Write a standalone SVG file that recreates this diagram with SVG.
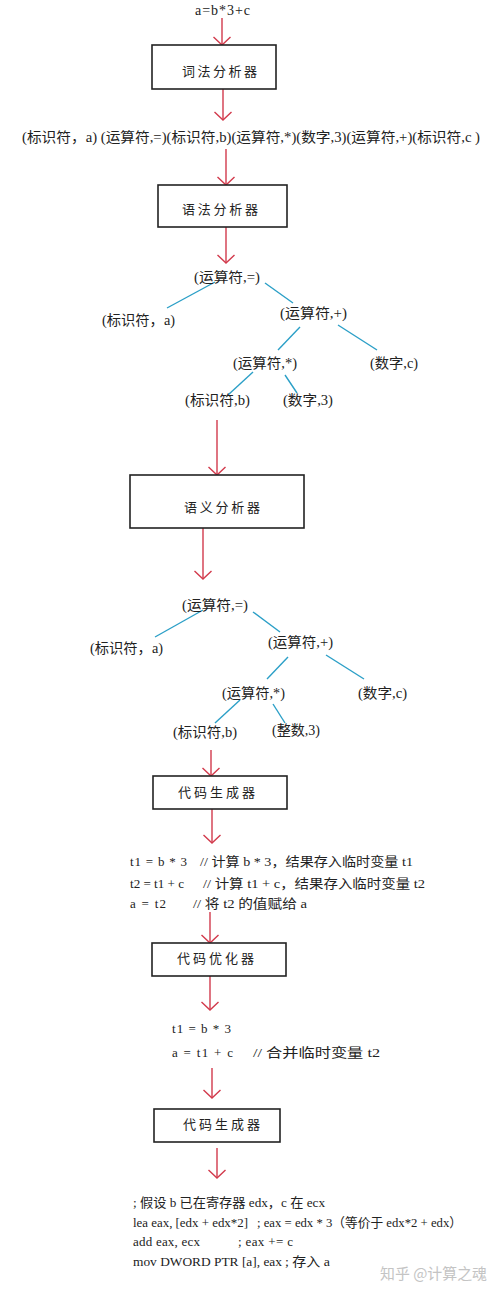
<svg xmlns="http://www.w3.org/2000/svg" width="500" height="1294" viewBox="0 0 500 1294">
<style>
.t{font-family:"Liberation Serif","Noto Sans CJK SC",serif;font-size:14px;fill:#222}
.c{font-family:"Liberation Serif","Noto Sans CJK SC",serif;font-size:13px;fill:#222}
.b{font-family:"Noto Sans CJK SC","Liberation Serif",serif;font-size:13px;fill:#222}
.box{fill:#fff;stroke:#222;stroke-width:1.6}
.arr{stroke:#d23a4c;stroke-width:1.4;fill:none}
.edge{stroke:#2b9fc7;stroke-width:1.4}
.wm{font-family:"Noto Sans CJK SC","Noto Sans",sans-serif;font-size:15px;fill:#c4c4c4}
</style>
<defs>
<marker id="ah" markerUnits="userSpaceOnUse" markerWidth="24" markerHeight="24" viewBox="-12 -12 24 24" refX="0" refY="0" orient="auto" overflow="visible">
<path d="M-8,-8.5 L0,0 L-8,8.5" fill="none" stroke="#d23a4c" stroke-width="1.4"/>
</marker>
</defs>
<rect width="500" height="1294" fill="#fff"/>

<g id="connectors">
<line class="arr" x1="222" y1="18" x2="222" y2="45" marker-end="url(#ah)"/>
<line class="arr" x1="223" y1="89" x2="223" y2="120" marker-end="url(#ah)"/>
<line class="arr" x1="226" y1="149" x2="226" y2="185" marker-end="url(#ah)"/>
<line class="arr" x1="226" y1="227" x2="226" y2="263" marker-end="url(#ah)"/>
<line class="arr" x1="217" y1="420" x2="217" y2="475" marker-end="url(#ah)"/>
<line class="arr" x1="203" y1="528" x2="203" y2="579" marker-end="url(#ah)"/>
<line class="arr" x1="211" y1="750" x2="211" y2="776" marker-end="url(#ah)"/>
<line class="arr" x1="212" y1="809" x2="212" y2="843" marker-end="url(#ah)"/>
<line class="arr" x1="210" y1="912" x2="210" y2="943" marker-end="url(#ah)"/>
<line class="arr" x1="210" y1="976" x2="210" y2="1010" marker-end="url(#ah)"/>
<line class="arr" x1="212" y1="1068" x2="212" y2="1098" marker-end="url(#ah)"/>
<line class="arr" x1="217" y1="1148" x2="217" y2="1178" marker-end="url(#ah)"/>
<line class="edge" x1="215" y1="282" x2="167" y2="308"/>
<line class="edge" x1="265" y1="283" x2="293" y2="303"/>
<line class="edge" x1="300" y1="327" x2="278" y2="350"/>
<line class="edge" x1="338" y1="325" x2="377" y2="350"/>
<line class="edge" x1="253" y1="372" x2="228" y2="395"/>
<line class="edge" x1="285" y1="375" x2="297" y2="393"/>
<line class="edge" x1="203" y1="610" x2="155" y2="637"/>
<line class="edge" x1="253" y1="612" x2="280" y2="632"/>
<line class="edge" x1="288" y1="657" x2="267" y2="679"/>
<line class="edge" x1="326" y1="655" x2="364" y2="679"/>
<line class="edge" x1="240" y1="700" x2="215" y2="723"/>
<line class="edge" x1="273" y1="704" x2="285" y2="723"/>
</g>

<g id="input"><text class="t" x="195" y="15" font-size="15" textLength="55">a=b*3+c</text></g>

<g id="lexer"><rect class="box" x="152" y="45" width="124" height="44"/><text class="b" x="182" y="76" textLength="75">词法分析器</text></g>

<g id="tokens"><text class="t" x="22" y="142" textLength="458" lengthAdjust="spacingAndGlyphs">(标识符，a) (运算符,=)(标识符,b)(运算符,*)(数字,3)(运算符,+)(标识符,c )</text></g>

<g id="parser"><rect class="box" x="158" y="185" width="129" height="42"/><text class="b" x="182" y="214" textLength="76">语法分析器</text></g>

<g id="tree1">
<text class="t" x="194" y="282" textLength="66" lengthAdjust="spacingAndGlyphs">(运算符,=)</text>
<text class="t" x="102" y="325" textLength="73" lengthAdjust="spacingAndGlyphs">(标识符，a)</text>
<text class="t" x="280" y="318" textLength="67" lengthAdjust="spacingAndGlyphs">(运算符,+)</text>
<text class="t" x="233" y="368" textLength="64" lengthAdjust="spacingAndGlyphs">(运算符,*)</text>
<text class="t" x="370" y="368" textLength="48" lengthAdjust="spacingAndGlyphs">(数字,c)</text>
<text class="t" x="185" y="405" textLength="65" lengthAdjust="spacingAndGlyphs">(标识符,b)</text>
<text class="t" x="283" y="405" textLength="50" lengthAdjust="spacingAndGlyphs">(数字,3)</text>
</g>

<g id="semantic"><rect class="box" x="130" y="475" width="174" height="53"/><text class="b" x="184" y="512" textLength="76">语义分析器</text></g>

<g id="tree2">
<text class="t" x="182" y="610" textLength="66" lengthAdjust="spacingAndGlyphs">(运算符,=)</text>
<text class="t" x="90" y="653" textLength="73" lengthAdjust="spacingAndGlyphs">(标识符，a)</text>
<text class="t" x="268" y="647" textLength="65" lengthAdjust="spacingAndGlyphs">(运算符,+)</text>
<text class="t" x="222" y="698" textLength="63" lengthAdjust="spacingAndGlyphs">(运算符,*)</text>
<text class="t" x="358" y="698" textLength="49" lengthAdjust="spacingAndGlyphs">(数字,c)</text>
<text class="t" x="173" y="737" textLength="64" lengthAdjust="spacingAndGlyphs">(标识符,b)</text>
<text class="t" x="272" y="735" textLength="48" lengthAdjust="spacingAndGlyphs">(整数,3)</text>
</g>

<g id="codegen1"><rect class="box" x="153" y="776" width="134" height="33"/><text class="b" x="178" y="797" textLength="77">代码生成器</text></g>

<g id="ir">
<text class="c" x="130" y="866" textLength="57">t1 = b * 3</text>
<text class="c" x="200" y="866" textLength="213" lengthAdjust="spacingAndGlyphs">// 计算 b * 3，结果存入临时变量 t1</text>
<text class="c" x="130" y="888" textLength="54" lengthAdjust="spacingAndGlyphs">t2 = t1 + c</text>
<text class="c" x="203" y="888" textLength="222" lengthAdjust="spacingAndGlyphs">// 计算 t1 + c，结果存入临时变量 t2</text>
<text class="c" x="130" y="908" textLength="36">a = t2</text>
<text class="c" x="193" y="908" textLength="114" lengthAdjust="spacingAndGlyphs">// 将 t2 的值赋给 a</text>
</g>

<g id="optimizer"><rect class="box" x="152" y="943" width="134" height="33"/><text class="b" x="177" y="963" textLength="77">代码优化器</text></g>

<g id="opt-ir">
<text class="c" x="172" y="1033" textLength="59">t1 = b * 3</text>
<text class="c" x="172" y="1057" textLength="61">a = t1 + c</text>
<text class="c" x="253" y="1057" textLength="127" lengthAdjust="spacingAndGlyphs">// 合并临时变量 t2</text>
</g>

<g id="codegen2"><rect class="box" x="154" y="1109" width="126" height="33"/><text class="b" x="183" y="1129" textLength="77">代码生成器</text></g>

<g id="asm">
<text class="c" x="133" y="1207" textLength="192" lengthAdjust="spacingAndGlyphs">; 假设 b 已在寄存器 edx，c 在 ecx</text>
<text class="c" x="133" y="1227" textLength="115" lengthAdjust="spacingAndGlyphs">lea  eax, [edx + edx*2]</text>
<text class="c" x="257" y="1227" textLength="205" lengthAdjust="spacingAndGlyphs">; eax = edx * 3（等价于 edx*2 + edx）</text>
<text class="c" x="133" y="1246" textLength="67">add  eax, ecx</text>
<text class="c" x="238" y="1246" textLength="55">; eax += c</text>
<text class="c" x="133" y="1266" textLength="149" lengthAdjust="spacingAndGlyphs">mov  DWORD PTR [a], eax</text>
<text class="c" x="285" y="1266" textLength="45" lengthAdjust="spacingAndGlyphs">; 存入 a</text>
</g>

<g id="watermark"><text class="wm" x="380" y="1279" textLength="107" lengthAdjust="spacingAndGlyphs">知乎 @计算之魂</text></g>
</svg>
